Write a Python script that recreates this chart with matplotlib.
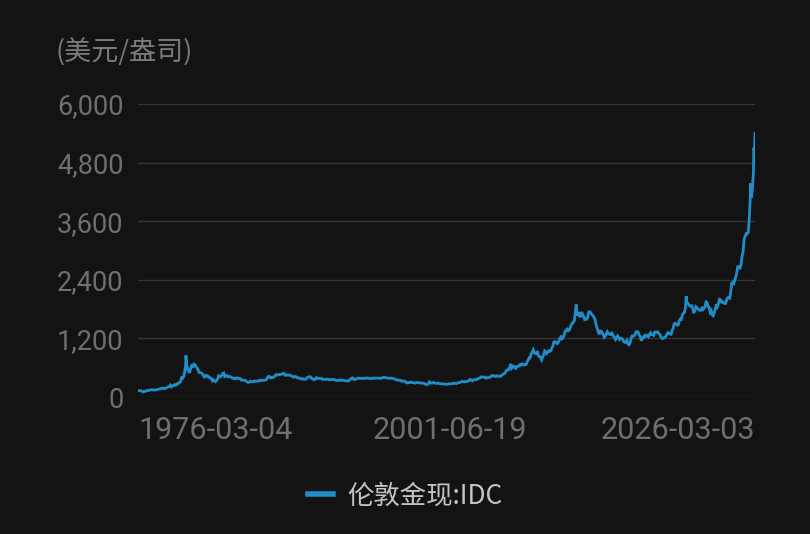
import matplotlib
matplotlib.use("Agg")
import matplotlib.pyplot as plt
import matplotlib.dates as mdates
import pandas as pd
import numpy as np

# ---- data (approximate monthly London spot gold, USD/oz) ----
start_month = "1976-03"
monthly_values = [
    # 1976 (Mar-Dec)
    132, 128, 126, 124, 112, 104, 115, 117, 130, 134,
    # 1977
    133, 142, 148, 149, 147, 141, 144, 146, 150, 158, 161, 165,
    # 1978
    173, 178, 184, 170, 176, 184, 195, 207, 218, 242, 207, 226,
    # 1979
    233, 252, 241, 245, 275, 278, 295, 315, 395, 382, 415, 512,
    # 1980
    675, 665, 554, 517, 513, 600, 644, 627, 673, 661, 623, 595,
    # 1981
    557, 500, 499, 495, 480, 461, 409, 410, 443, 437, 413, 410,
    # 1982
    384, 374, 330, 350, 334, 315, 339, 364, 435, 422, 414, 444,
    # 1983
    481, 491, 420, 432, 438, 413, 422, 416, 411, 393, 382, 388,
    # 1984
    370, 386, 394, 381, 377, 377, 347, 348, 341, 340, 341, 320,
    # 1985
    303, 299, 304, 325, 316, 317, 317, 330, 323, 325, 325, 323,
    # 1986
    345, 339, 346, 340, 342, 343, 348, 376, 418, 423, 398, 391,
    # 1987
    408, 401, 409, 438, 460, 450, 451, 461, 460, 465, 467, 486,
    # 1988
    477, 442, 444, 452, 451, 451, 437, 432, 413, 406, 420, 418,
    # 1989
    404, 388, 390, 384, 371, 367, 375, 365, 362, 367, 394, 409,
    # 1990
    410, 417, 393, 374, 369, 352, 362, 395, 389, 380, 381, 378,
    # 1991
    383, 363, 363, 358, 357, 367, 368, 356, 349, 358, 360, 361,
    # 1992
    354, 354, 345, 339, 337, 341, 353, 343, 345, 344, 335, 334,
    # 1993
    329, 329, 330, 342, 367, 372, 392, 379, 355, 364, 373, 383,
    # 1994
    387, 382, 384, 377, 381, 385, 385, 380, 391, 389, 384, 379,
    # 1995
    379, 376, 382, 391, 385, 387, 386, 383, 383, 383, 386, 387,
    # 1996
    400, 405, 396, 393, 392, 385, 383, 387, 383, 381, 378, 369,
    # 1997
    355, 346, 352, 344, 344, 341, 324, 324, 323, 325, 306, 289,
    # 1998
    289, 297, 296, 308, 299, 292, 293, 284, 289, 296, 294, 291,
    # 1999
    287, 287, 286, 282, 277, 261, 256, 257, 264, 311, 293, 283,
    # 2000
    284, 300, 286, 280, 275, 285, 282, 274, 273, 270, 266, 272,
    # 2001
    265, 262, 263, 260, 272, 270, 268, 272, 283, 283, 276, 275,
    # 2002
    282, 296, 294, 302, 314, 321, 313, 310, 319, 317, 319, 333,
    # 2003
    356, 359, 340, 328, 355, 356, 351, 360, 378, 379, 389, 407,
    # 2004
    414, 405, 406, 404, 384, 392, 398, 400, 406, 420, 439, 442,
    # 2005
    424, 423, 434, 429, 422, 430, 424, 437, 456, 470, 476, 510,
    # 2006
    549, 555, 557, 610, 676, 596, 633, 632, 598, 585, 627, 629,
    # 2007
    631, 664, 655, 679, 667, 655, 665, 665, 712, 754, 806, 803,
    # 2008
    889, 922, 968, 909, 889, 889, 939, 839, 829, 806, 760, 816,
    # 2009
    858, 943, 924, 890, 928, 945, 934, 949, 996, 1043, 1127, 1135,
    # 2010
    1118, 1095, 1114, 1148, 1205, 1232, 1193, 1215, 1271, 1343, 1370, 1391,
    # 2011
    1356, 1372, 1424, 1474, 1512, 1529, 1573, 1756, 1772, 1665, 1739, 1652,
    # 2012
    1656, 1742, 1674, 1650, 1585, 1596, 1594, 1630, 1745, 1747, 1721, 1688,
    # 2013
    1670, 1627, 1593, 1487, 1414, 1343, 1286, 1349, 1348, 1316, 1275, 1222,
    # 2014
    1244, 1300, 1336, 1299, 1287, 1279, 1311, 1296, 1239, 1222, 1176, 1202,
    # 2015
    1251, 1227, 1179, 1198, 1199, 1181, 1131, 1117, 1125, 1159, 1086, 1068,
    # 2016
    1097, 1200, 1246, 1242, 1260, 1276, 1337, 1341, 1326, 1266, 1236, 1152,
    # 2017
    1192, 1234, 1231, 1266, 1246, 1260, 1236, 1283, 1314, 1280, 1283, 1265,
    # 2018
    1331, 1331, 1325, 1335, 1303, 1282, 1238, 1202, 1198, 1215, 1220, 1250,
    # 2019
    1291, 1320, 1300, 1286, 1284, 1360, 1413, 1500, 1510, 1495, 1470, 1479,
    # 2020
    1560, 1597, 1591, 1683, 1715, 1732, 1840, 1968, 1921, 1900, 1866, 1858,
    # 2021
    1867, 1808, 1718, 1760, 1850, 1834, 1807, 1785, 1775, 1777, 1820, 1790,
    # 2022
    1817, 1856, 1947, 1937, 1848, 1837, 1733, 1765, 1681, 1664, 1726, 1798,
    # 2023
    1898, 1855, 1912, 2000, 1992, 1943, 1951, 1929, 1916, 1916, 1993, 2030,
    # 2024
    2033, 2023, 2160, 2330, 2350, 2325, 2400, 2470, 2570, 2690, 2650, 2640,
    # 2025
    2710, 2890, 2980, 3230, 3290, 3350, 3340, 3370, 3650, 4100, 4080, 4250,
    # 2026 (Jan-Feb)
    4600, 5000,
]

# a few intra-month extremes visible in the picture
extreme_dates = ["1980-01-21", "2011-09-06", "2020-08-06", "2025-10-20",
                 "2026-01-29", "2026-03-03"]
extreme_values = [850, 1895, 2067, 4380, 5100, 5400]

x_tick_labels = ["1976-03-04", "2001-06-19", "2026-03-03"]
y_ticks = [0, 1200, 2400, 3600, 4800, 6000]
unit_label = "(美元/盎司)"
series_name = "伦敦金现:IDC"

# ---- build series ----
dates = pd.date_range(start=start_month, periods=len(monthly_values), freq="MS") + pd.Timedelta(days=14)
s = pd.Series(monthly_values, index=dates)
s = pd.concat([s, pd.Series(extreme_values, index=pd.to_datetime(extreme_dates))]).sort_index()

# ---- figure ----
BG = "#131313"
fig = plt.figure(figsize=(8.10, 5.34), dpi=100, facecolor=BG)
ax = fig.add_axes([138 / 810, 1 - 397 / 534, (755 - 138) / 810, (397 - 104) / 534])
ax.set_facecolor(BG)

line, = ax.plot(s.index, s.values, color="#1f8dc8", lw=2.0, label=series_name,
                solid_joinstyle="miter")

x0 = pd.Timestamp("1976-03-04")
x1 = pd.Timestamp("2026-03-03")
ax.set_xlim(x0, x1)
ax.set_ylim(0, 6000)

ax.set_yticks(y_ticks)
ax.set_yticklabels([f"{v:,}" for v in y_ticks])
ax.grid(axis="y", color="#353535", lw=1)
ax.set_axisbelow(True)
for sp in ax.spines.values():
    sp.set_visible(False)

tick_font = ["Roboto", "DejaVu Sans"]
ax.tick_params(axis="y", length=0, pad=10.5, labelsize=19.5, labelcolor="#6f6f6f")
for t in ax.get_yticklabels():
    t.set_fontfamily(tick_font)

ax.set_xticks([])
aligns = ["left", "center", "right"]
for lab, ha in zip(x_tick_labels, aligns):
    ax.text(mdates.date2num(pd.Timestamp(lab)), -0.113, lab,
            transform=ax.get_xaxis_transform(), ha=ha, va="center",
            fontsize=22, color="#6f6f6f", family=tick_font)

fig.text(55 / 810, 1 - 53 / 534, unit_label, ha="left", va="center",
         fontsize=19.5, color="#7a7a7a", family=["Noto Sans CJK SC", "DejaVu Sans"])

leg = fig.legend(handles=[line], loc="center", bbox_to_anchor=(405 / 810, 1 - 496 / 534),
                 frameon=False, handlelength=0.95, handletextpad=0.55,
                 prop={"family": ["Noto Sans CJK SC", "DejaVu Sans"], "size": 19})
for t in leg.get_texts():
    t.set_color("#c4c4c4")
for h in leg.get_lines():
    h.set_linewidth(4)

fig.savefig("out.png", dpi=100, facecolor=BG)
